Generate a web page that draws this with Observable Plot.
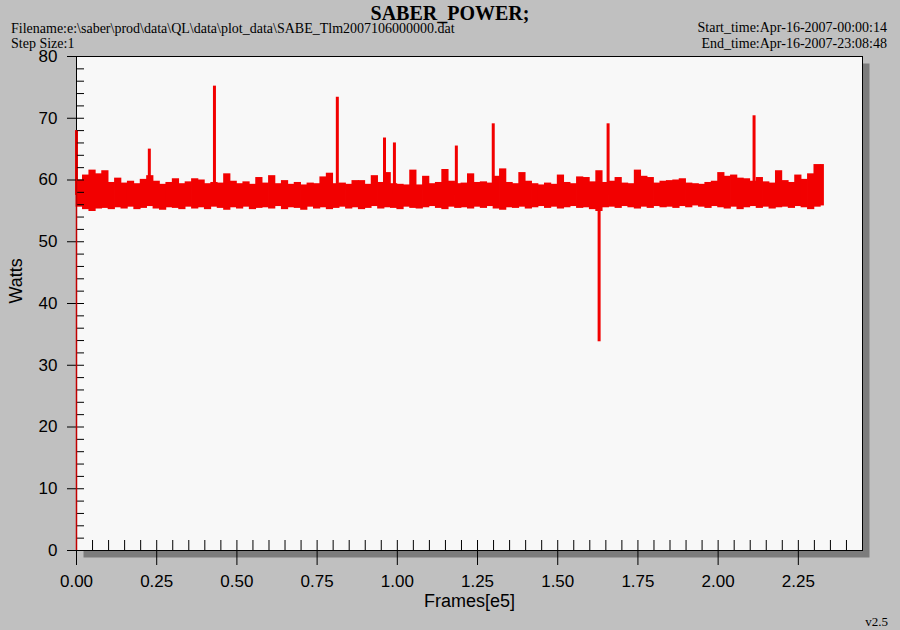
<!DOCTYPE html>
<html>
<head>
<meta charset="utf-8">
<script src="https://cdn.jsdelivr.net/npm/d3@7"></script>
<script src="https://cdn.jsdelivr.net/npm/@observablehq/plot@0.6"></script>
<style>
  html, body { margin: 0; padding: 0; background: #c0c0c0; }
  #wrap { position: relative; width: 900px; height: 630px; overflow: hidden; background: #c0c0c0; }
  .t { position: absolute; font-family: "Liberation Serif", "DejaVu Serif", serif; color: #000; white-space: nowrap; line-height: 1; }
  #title { left: 0; width: 900px; top: 3px; text-align: center; font-weight: bold; font-size: 20px; }
  #fname { left: 11px; top: 22px; font-size: 14px; }
  #step { left: 11px; top: 37px; font-size: 14px; }
  #start { right: 13px; top: 21px; font-size: 14px; }
  #end { right: 13px; top: 37px; font-size: 14px; }
  #ver { right: 12px; top: 615px; font-size: 13px; }
  #chart { position: absolute; left: 0; top: 48px; }
</style>
</head>
<body>
<div id="wrap">
  <div class="t" id="title">SABER_POWER;</div>
  <div class="t" id="fname">Filename:e:\saber\prod\data\QL\data\plot_data\SABE_Tlm2007106000000.dat</div>
  <div class="t" id="step">Step Size:1</div>
  <div class="t" id="start">Start_time:Apr-16-2007-00:00:14</div>
  <div class="t" id="end">End_time:Apr-16-2007-23:08:48</div>
  <div id="chart"></div>
  <div class="t" id="ver">v2.5</div>
</div>
<script>
// ---- data ----
const xTicks = [0, 0.25, 0.5, 0.75, 1.0, 1.25, 1.5, 1.75, 2.0, 2.25];
const yTicks = [0, 10, 20, 30, 40, 50, 60, 70, 80];
const binWidth = 0.02;        // frames[e5] per envelope bin
const lastFrame = 2.33;       // end of data
// upper envelope of the noisy band, one per bin (Watts)
const bandHi = [
  60.0, 60.8, 61.6, 61.0, 61.5, 59.6, 60.3, 59.5, 59.8, 59.4,
  60.1, 60.7, 59.8, 59.3, 59.6, 60.2, 59.4, 59.7, 60.2, 60.0,
  59.4, 59.6, 59.5, 61.0, 59.8, 59.4, 59.7, 59.3, 60.4, 59.5,
  60.7, 59.4, 59.9, 59.3, 59.6, 59.2, 59.5, 59.4, 60.5, 61.1,
  59.4, 59.5, 59.3, 59.9, 59.9, 59.3, 60.7, 59.6, 61.2, 59.4,
  59.3, 59.2, 61.6, 59.2, 60.6, 59.4, 59.6, 61.7, 59.8, 59.4,
  59.5, 61.0, 59.6, 59.7, 59.5, 60.6, 61.8, 59.6, 59.4, 61.2,
  59.8, 59.4, 59.2, 59.5, 59.3, 60.8, 59.6, 59.4, 60.5, 60.4,
  59.7, 61.5, 59.6, 59.8, 60.4, 59.5, 59.4, 61.6, 60.6, 60.4,
  59.5, 59.8, 59.9, 60.0, 60.2, 59.5, 59.4, 59.3, 59.6, 59.8,
  61.2, 60.6, 60.8, 60.3, 60.2, 59.8, 60.4, 59.7, 59.5, 61.5,
  59.9, 59.6, 60.8, 60.1, 61.0, 62.5, 62.5
];
// lower envelope of the noisy band, one per bin (Watts)
const bandLo = [
  55.6, 55.2, 54.9, 55.3, 55.4, 55.2, 55.5, 55.3, 55.6, 55.2,
  55.4, 55.7, 55.3, 55.1, 55.5, 55.4, 55.2, 55.6, 55.3, 55.5,
  55.2, 55.6, 55.4, 55.1, 55.5, 55.3, 55.6, 55.2, 55.4, 55.5,
  55.3, 55.7, 55.2, 55.5, 55.4, 55.1, 55.6, 55.3, 55.5, 55.2,
  55.4, 55.6, 55.3, 55.5, 55.2, 55.4, 55.7, 55.3, 55.5, 55.4,
  55.2, 55.6, 55.4, 55.3, 55.5, 55.7, 55.4, 55.2, 55.6, 55.4,
  55.5, 55.3, 55.6, 55.4, 55.7, 55.3, 55.1, 55.5, 55.4, 55.6,
  55.3, 55.5, 55.7, 55.4, 55.6, 55.3, 55.5, 55.7, 55.4, 55.5,
  55.2, 54.9, 55.5, 55.6, 55.4, 55.7, 55.5, 55.3, 55.6, 55.4,
  55.7, 55.5, 55.6, 55.4, 55.7, 55.5, 55.8, 55.6, 55.4, 55.7,
  55.5, 55.3, 55.6, 55.2, 55.5, 55.7, 55.4, 55.6, 55.3, 55.5,
  55.6, 55.4, 55.7, 55.5, 55.2, 55.6, 55.8
];
// isolated spikes: frame position [e5] and extreme value (Watts)
const spikeFrames = [0.0, 0.227, 0.430, 0.813, 0.960, 0.991, 1.184, 1.299, 1.629, 1.657, 2.112];
const spikeValues = [68.0, 65.0, 75.2, 73.4, 66.8, 66.0, 65.5, 69.1, 33.8, 69.1, 70.4];
const spikeBase = 57.5;
// first sample of the record
const startFrame = 0.0;
const startValue = 0.0;

// ---- tables built from the arrays ----
const band = bandHi.map((hi, i) => ({
  x1: i * binWidth,
  x2: Math.min((i + 1) * binWidth, lastFrame),
  hi, lo: bandLo[i]
}));
const spikes = spikeFrames.map((x, i) => ({x, peak: spikeValues[i], base: spikeBase}));
const xMinor = d3.range(0, 2.4501, 0.05);
const yMinor = d3.range(0, 80.001, 2);

const red = "#f20000";
const W = 900, H = 582, mL = 76, mR = 38, mT = 8, mB = 80;
const plotW = W - mL - mR, plotH = H - mT - mB;

const chart = Plot.plot({
  width: W, height: H,
  marginLeft: mL, marginRight: mR, marginTop: mT, marginBottom: mB,
  style: {background: "transparent", color: "#000", fontFamily: "'Liberation Sans', Arial, sans-serif", fontSize: "17px", overflow: "visible"},
  x: {domain: [0, 2.45]},
  y: {domain: [0, 80]},
  marks: [
    Plot.frame({fill: "#7c7c7c", stroke: null, dx: 7, dy: 7}),
    Plot.frame({fill: "#f8f8f8", stroke: null}),
    Plot.rect(band, {x1: "x1", x2: "x2", y1: "lo", y2: "hi", fill: red, insetLeft: -0.4, insetRight: -0.4}),
    Plot.ruleX(spikes, {x: "x", y1: "base", y2: "peak", stroke: red, strokeWidth: 3}),
    Plot.frame({stroke: "#000", strokeWidth: 1}),
    Plot.tickX(xMinor, {x: d => d, insetTop: plotH - 10, stroke: "#000"}),
    Plot.tickY(yMinor, {y: d => d, insetRight: plotW - 8, stroke: "#000"}),
    Plot.axisX({ticks: xTicks, tickFormat: d3.format(".2f"), tickSize: 15, tickPadding: 9, label: null, fontSize: 17}),
    Plot.axisY({ticks: yTicks, tickSize: 9, tickPadding: 10, label: null, fontSize: 17}),
    Plot.ruleX([{x: startFrame, y1: startValue, y2: spikeValues[0]}], {x: "x", y1: "y1", y2: "y2", stroke: "#c00000", strokeWidth: 1.5}),
    Plot.text(["Watts"], {frameAnchor: "left", dx: -60, rotate: -90, fontSize: 18, text: d => d}),
    Plot.text(["Frames[e5]"], {frameAnchor: "bottom", dy: 56, fontSize: 18, text: d => d})
  ]
});
document.getElementById("chart").appendChild(chart);
</script>
</body>
</html>
